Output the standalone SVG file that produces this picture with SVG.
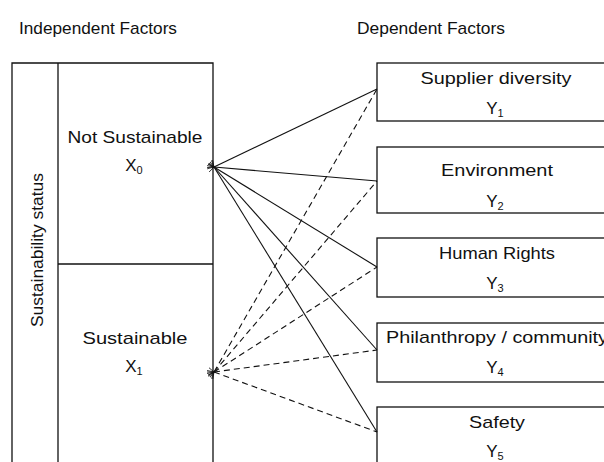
<svg xmlns="http://www.w3.org/2000/svg" width="604" height="462" viewBox="0 0 604 462">
<defs>
<style>
text{font-family:"Liberation Sans",Arial,sans-serif;font-size:17px;fill:#111;text-anchor:middle}
.sub{font-size:11px}
.box{fill:#fff;stroke:#111;stroke-width:1.3}
.ln{fill:none;stroke:#111;stroke-width:1.3}
.solid{stroke:#111;stroke-width:1.1;fill:none;marker-start:url(#ah)}
.dash{stroke:#111;stroke-width:1.1;fill:none;stroke-dasharray:6 4;marker-start:url(#ah)}
</style>
<marker id="ah" viewBox="0 0 10 10" refX="0.5" refY="5" markerWidth="7" markerHeight="7" orient="auto-start-reverse" markerUnits="userSpaceOnUse">
<path d="M10,1.5 L0.5,5 L10,8.5" fill="none" stroke="#111" stroke-width="1.1"/>
</marker>
</defs>
<rect width="604" height="462" fill="#fff"/>
<text x="98" y="34" textLength="158" lengthAdjust="spacingAndGlyphs">Independent Factors</text>
<text x="431" y="34" textLength="148" lengthAdjust="spacingAndGlyphs">Dependent Factors</text>
<g id="status">
<path class="ln" d="M12,470 L12,63 L213,63 L213,470 M58,63 L58,470"/>
<text transform="translate(43,250) rotate(-90)" textLength="154" lengthAdjust="spacingAndGlyphs">Sustainability status</text>
</g>
<g id="x0">
<text x="135" y="143" textLength="135" lengthAdjust="spacingAndGlyphs">Not Sustainable</text>
<text x="134" y="171">X<tspan class="sub" dy="3">0</tspan></text>
</g>
<g id="x1">
<path class="ln" d="M58,264 L213,264"/>
<text x="135" y="344" textLength="105" lengthAdjust="spacingAndGlyphs">Sustainable</text>
<text x="134" y="372">X<tspan class="sub" dy="3">1</tspan></text>
</g>
<g id="y1">
<rect class="box" x="377" y="63" width="240" height="58"/>
<text x="496" y="84" textLength="151" lengthAdjust="spacingAndGlyphs">Supplier diversity</text>
<text x="495" y="114">Y<tspan class="sub" dy="3">1</tspan></text>
</g>
<g id="y2">
<rect class="box" x="377" y="147" width="240" height="66"/>
<text x="497" y="176" textLength="112" lengthAdjust="spacingAndGlyphs">Environment</text>
<text x="495" y="207">Y<tspan class="sub" dy="3">2</tspan></text>
</g>
<g id="y3">
<rect class="box" x="377" y="238" width="240" height="59"/>
<text x="497" y="259" textLength="116" lengthAdjust="spacingAndGlyphs">Human Rights</text>
<text x="495" y="289">Y<tspan class="sub" dy="3">3</tspan></text>
</g>
<g id="y4">
<rect class="box" x="377" y="323" width="240" height="59"/>
<text x="497" y="343" textLength="222" lengthAdjust="spacingAndGlyphs">Philanthropy / community</text>
<text x="495" y="373">Y<tspan class="sub" dy="3">4</tspan></text>
</g>
<g id="y5">
<rect class="box" x="377" y="407" width="240" height="70"/>
<text x="497" y="428" textLength="56" lengthAdjust="spacingAndGlyphs">Safety</text>
<text x="495" y="457">Y<tspan class="sub" dy="3">5</tspan></text>
</g>
<g id="connectors">
<path class="solid" d="M214,167 L377,89"/>
<path class="solid" d="M214,167 L377,181"/>
<path class="solid" d="M214,167 L377,267"/>
<path class="solid" d="M214,167 L377,350"/>
<path class="solid" d="M214,167 L377,432"/>
<path class="dash" d="M214,372 L377,89"/>
<path class="dash" d="M214,372 L377,181"/>
<path class="dash" d="M214,372 L377,267"/>
<path class="dash" d="M214,372 L377,350"/>
<path class="dash" d="M214,372 L377,432"/>
</g>
</svg>
